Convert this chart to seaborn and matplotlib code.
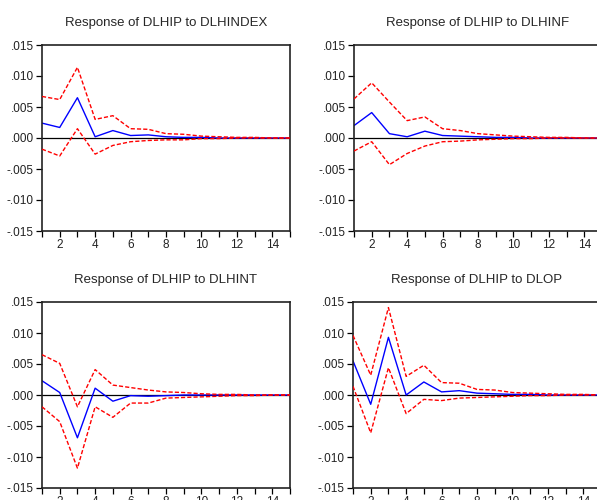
import numpy as np
import pandas as pd
import matplotlib
matplotlib.use("Agg")
import matplotlib.pyplot as plt
import seaborn as sns

# Impulse responses of DLHIP (periods 1..15) with +/- 2 S.E. bands
periods = list(range(1, 16))

titles = [
    "Response of DLHIP to DLHINDEX",
    "Response of DLHIP to DLHINF",
    "Response of DLHIP to DLHINT",
    "Response of DLHIP to DLOP",
]

resp_hindex = [0.0024, 0.0017, 0.0065, 0.0002, 0.0012, 0.0004, 0.0005, 0.0002, 0.0001, 0.0001, 0.0000, 0.0000, 0.0000, 0.0000, 0.0000]
upper_hindex = [0.0067, 0.0062, 0.0114, 0.0030, 0.0036, 0.0015, 0.0014, 0.0007, 0.0006, 0.0003, 0.0002, 0.0001, 0.0001, 0.0000, 0.0000]
lower_hindex = [-0.0018, -0.0029, 0.0015, -0.0026, -0.0012, -0.0006, -0.0004, -0.0003, -0.0003, -0.0001, -0.0001, 0.0000, 0.0000, 0.0000, 0.0000]

resp_hinf = [0.0020, 0.0041, 0.0007, 0.0002, 0.0011, 0.0004, 0.0003, 0.0002, 0.0001, 0.0001, 0.0000, 0.0000, 0.0000, 0.0000, 0.0000]
upper_hinf = [0.0063, 0.0089, 0.0058, 0.0028, 0.0034, 0.0015, 0.0012, 0.0007, 0.0005, 0.0003, 0.0002, 0.0001, 0.0001, 0.0000, 0.0000]
lower_hinf = [-0.0021, -0.0006, -0.0043, -0.0025, -0.0013, -0.0006, -0.0005, -0.0003, -0.0002, -0.0001, -0.0001, 0.0000, 0.0000, 0.0000, 0.0000]

resp_hint = [0.0023, 0.0004, -0.0069, 0.0011, -0.0010, -0.0001, -0.0002, -0.0001, 0.0000, 0.0000, 0.0000, 0.0000, 0.0000, 0.0000, 0.0000]
upper_hint = [0.0065, 0.0051, -0.0019, 0.0041, 0.0016, 0.0012, 0.0008, 0.0005, 0.0004, 0.0002, 0.0001, 0.0001, 0.0000, 0.0000, 0.0000]
lower_hint = [-0.0019, -0.0043, -0.0118, -0.0019, -0.0036, -0.0013, -0.0013, -0.0005, -0.0004, -0.0003, -0.0002, -0.0001, -0.0001, 0.0000, 0.0000]

resp_op = [0.0055, -0.0015, 0.0093, 0.0000, 0.0021, 0.0005, 0.0007, 0.0003, 0.0002, 0.0001, 0.0001, 0.0000, 0.0000, 0.0000, 0.0000]
upper_op = [0.0096, 0.0032, 0.0141, 0.0030, 0.0048, 0.0020, 0.0019, 0.0009, 0.0008, 0.0004, 0.0003, 0.0002, 0.0001, 0.0001, 0.0000]
lower_op = [0.0014, -0.0061, 0.0044, -0.0030, -0.0007, -0.0009, -0.0005, -0.0004, -0.0003, -0.0002, -0.0001, -0.0001, 0.0000, 0.0000, 0.0000]

y_ticks = [0.015, 0.010, 0.005, 0.0, -0.005, -0.010, -0.015]
y_tick_labels = [".015", ".010", ".005", ".000", "-.005", "-.010", "-.015"]
x_ticks = [2, 4, 6, 8, 10, 12, 14]

panels = [
    (resp_hindex, upper_hindex, lower_hindex),
    (resp_hinf, upper_hinf, lower_hinf),
    (resp_hint, upper_hint, lower_hint),
    (resp_op, upper_op, lower_op),
]

sns.set_theme(style="ticks")
plt.rcParams["font.family"] = ["Liberation Sans", "DejaVu Sans"]

fig = plt.figure(figsize=(5.97, 5.0), dpi=100)
W, H = 597.0, 500.0
# axes boxes in pixels: left, top, width, height
boxes = [
    (42, 45, 248, 186),
    (354, 45, 248, 186),
    (42, 302, 248, 186),
    (353, 302, 248, 186),
]

for (left, top, w, h), title, (resp, up, lo) in zip(boxes, titles, panels):
    ax = fig.add_axes([left / W, (H - top - h) / H, w / W, h / H])
    df = pd.DataFrame({"period": periods, "resp": resp, "upper": up, "lower": lo})
    ax.axhline(0, color="black", lw=0.9, zorder=1)
    sns.lineplot(data=df, x="period", y="upper", ax=ax, color="#ff0000", lw=1.0,
                 dashes=False, linestyle=(0, (3, 1.5)), zorder=3)
    sns.lineplot(data=df, x="period", y="lower", ax=ax, color="#ff0000", lw=1.0,
                 linestyle=(0, (3, 1.5)), zorder=3)
    sns.lineplot(data=df, x="period", y="resp", ax=ax, color="#0000ff", lw=1.0, zorder=2)
    ax.set_xlim(1, 15)
    ax.set_ylim(-0.015, 0.015)
    ax.set_xticks(x_ticks)
    ax.set_xticks(periods, minor=True)
    ax.set_yticks(y_ticks)
    ax.set_yticklabels(y_tick_labels)
    ax.set_xlabel("")
    ax.set_ylabel("")
    ax.set_title(title, fontsize=9.5, pad=14)
    ax.tick_params(axis="both", which="major", direction="out", length=4, width=0.9,
                   labelsize=8.5, pad=2, color="black", labelcolor="#222222")
    ax.tick_params(axis="x", which="minor", direction="out", length=4, width=0.9, color="black")
    for s in ax.spines.values():
        s.set_visible(True)
        s.set_color("#222222")
        s.set_linewidth(1.2)

fig.savefig("out.png", dpi=100)
